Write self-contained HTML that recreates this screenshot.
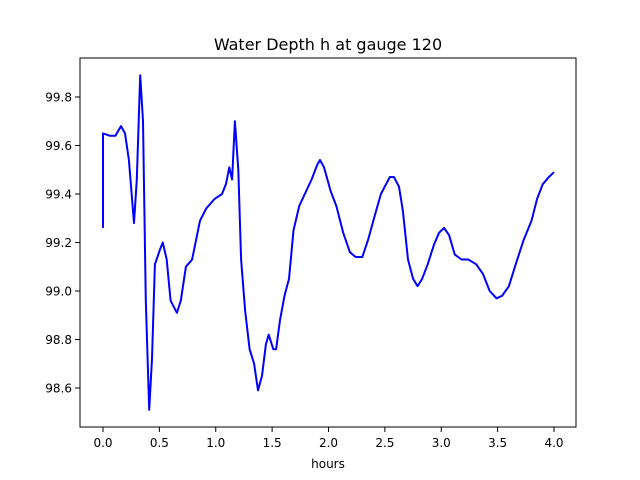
<!DOCTYPE html>
<html><head><meta charset="utf-8"><style>
body{margin:0;background:#fff}
svg{display:block;font-family:"DejaVu Sans","Liberation Sans",sans-serif}
</style></head><body>
<svg id="chart" width="640" height="480">
<rect width="640" height="480" fill="#fff"/>
<text x="328" y="50" font-size="16" text-anchor="middle">Water Depth h at gauge 120</text>
<g id="ticks"></g>
<path id="line" fill="none" stroke="blue" stroke-width="2" stroke-linejoin="round"/>
<rect x="80" y="58" width="496" height="369" fill="none" stroke="#000" stroke-width="1"/>
<text x="328" y="468" font-size="12" text-anchor="middle">hours</text>
</svg>
<script>
const hours=[0,0,0.062,0.11,0.16,0.195,0.23,0.275,0.30,0.33,0.355,0.38,0.41,0.435,0.46,0.505,0.53,0.565,0.60,0.655,0.69,0.735,0.79,0.86,0.915,0.99,1.055,1.09,1.12,1.145,1.17,1.20,1.225,1.26,1.30,1.34,1.375,1.41,1.445,1.47,1.51,1.535,1.57,1.61,1.65,1.69,1.74,1.79,1.85,1.90,1.925,1.96,2.02,2.07,2.13,2.19,2.24,2.30,2.35,2.41,2.465,2.51,2.545,2.58,2.625,2.66,2.705,2.75,2.79,2.83,2.88,2.935,2.98,3.025,3.07,3.12,3.18,3.24,3.31,3.37,3.43,3.49,3.54,3.60,3.66,3.73,3.80,3.85,3.90,3.955,4.0];
const depth=[99.26,99.65,99.64,99.64,99.68,99.65,99.54,99.28,99.46,99.89,99.70,98.96,98.51,98.72,99.11,99.17,99.20,99.13,98.96,98.91,98.96,99.10,99.13,99.29,99.34,99.38,99.40,99.44,99.51,99.46,99.70,99.50,99.13,98.92,98.76,98.70,98.59,98.65,98.78,98.82,98.76,98.76,98.88,98.98,99.05,99.25,99.35,99.40,99.46,99.52,99.54,99.51,99.41,99.35,99.24,99.16,99.14,99.14,99.21,99.31,99.40,99.44,99.47,99.47,99.43,99.33,99.13,99.05,99.02,99.05,99.11,99.19,99.24,99.26,99.23,99.15,99.13,99.13,99.11,99.07,99.00,98.97,98.98,99.02,99.11,99.21,99.29,99.38,99.44,99.47,99.49];
const xTicks=[0,0.5,1,1.5,2,2.5,3,3.5,4];
const yTicks=[98.6,98.8,99.0,99.2,99.4,99.6,99.8];
const xs=v=>103+v*112.75;
const ys=v=>97+(99.8-v)*242.5;
const NS="http://www.w3.org/2000/svg";
document.getElementById('line').setAttribute('d',hours.map((h,i)=>(i?'L':'M')+xs(h).toFixed(1)+','+ys(depth[i]).toFixed(1)).join(''));
const g=document.getElementById('ticks');
xTicks.forEach(t=>{
 const l=document.createElementNS(NS,'line');
 
 
 l.setAttribute('x1',xs(t));l.setAttribute('x2',xs(t));l.setAttribute('y1',427);l.setAttribute('y2',432);l.setAttribute('stroke','#000');
 g.appendChild(l);
 const tx=document.createElementNS(NS,'text');
 
 
 tx.setAttribute('x',xs(t));tx.setAttribute('y',447);tx.setAttribute('font-size','12');tx.setAttribute('text-anchor','middle');
 tx.textContent=t.toFixed(1);g.appendChild(tx);
});
yTicks.forEach(t=>{
 const l=document.createElementNS(NS,'line');
 
 
 l.setAttribute('x1',75);l.setAttribute('x2',80);l.setAttribute('y1',ys(t));l.setAttribute('y2',ys(t));l.setAttribute('stroke','#000');
 g.appendChild(l);
 const tx=document.createElementNS(NS,'text');
 
 
 tx.setAttribute('x',72);tx.setAttribute('y',ys(t)+4.5);tx.setAttribute('font-size','12');tx.setAttribute('text-anchor','end');
 tx.textContent=t.toFixed(1);g.appendChild(tx);
});
</script>
</body></html>
